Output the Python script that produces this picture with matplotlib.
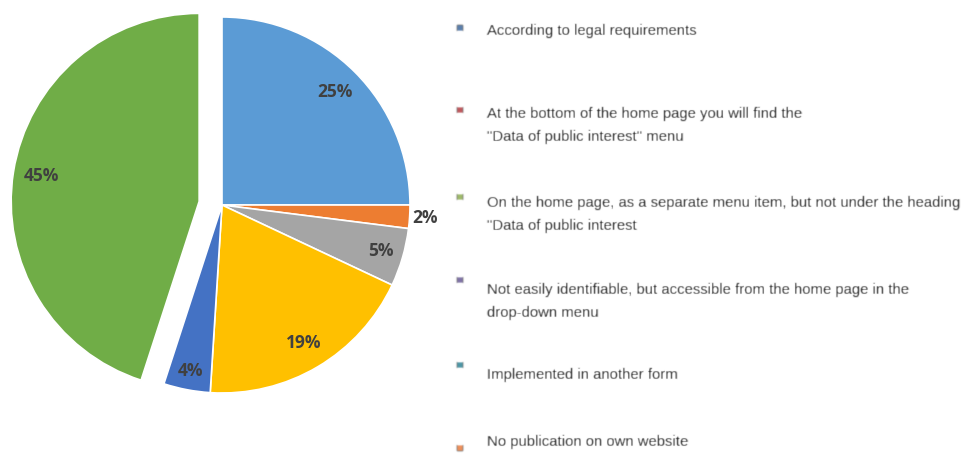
import numpy as np
import matplotlib.pyplot as plt
from matplotlib import font_manager


# Pie data
shares = [25, 2, 5, 19, 4, 45]
pie_colors = ['#5B9BD5', '#ED7D31', '#A5A5A5', '#FFC000', '#4472C4', '#70AD47']

# Key on the right side
answers = [
    'According to legal requirements',
    'At the bottom of the home page you will find the\n"Data of public interest" menu',
    'On the home page, as a separate menu item, but not under the heading\n"Data of public interest',
    'Not easily identifiable, but accessible from the home page in the\ndrop-down menu',
    'Implemented in another form',
    'No publication on own website',
]
key_colors = ['#5A7FAE', '#C0585C', '#9FBB6A', '#7F72A6', '#4C96A6', '#F0905A']


# Soft gaussian blur for the pasted key
def soften(im, dpi, sigma=0.6):
    pad = 3
    a = np.pad(im, ((pad, pad), (pad, pad), (0, 0)))
    k = np.exp(-0.5 * (np.arange(-pad, pad + 1) / sigma) ** 2)
    k /= k.sum()
    a = np.apply_along_axis(lambda m: np.convolve(m, k, mode='same'), 0, a)
    a = np.apply_along_axis(lambda m: np.convolve(m, k, mode='same'), 1, a)
    return a, -pad, -pad


# narrow face for the key if there is one
names = {f.name for f in font_manager.fontManager.ttflist}
if 'Liberation Sans Narrow' in names:
    key_font, key_size = 'Liberation Sans Narrow', 12.6
else:
    key_font, key_size = 'Liberation Sans', 10.7

W, H = 961, 461
R = 188           # pie radius in px
cx, cy = 222, 205  # pie centre in px (from top-left)

fig = plt.figure(figsize=(W / 100, H / 100), dpi=100)
ax = fig.add_axes([(cx - 1.2 * R) / W, (H - cy - 1.2 * R) / H, 2.4 * R / W, 2.4 * R / H])

explode = [0, 0, 0, 0, 0, 0.123]
wedges, texts, autotexts = ax.pie(
    shares, colors=pie_colors, startangle=90, counterclock=False,
    explode=explode, autopct=lambda p: f'{p:.0f}%', pctdistance=0.85,
    wedgeprops=dict(edgecolor='white', linewidth=1.2),
    textprops=dict(family='Open Sans', fontweight='bold', fontsize=12.5, color='#404040'))
ax.set_xlim(-1.2, 1.2)
ax.set_ylim(-1.2, 1.2)
ax.set_aspect('equal')

# move a few labels (2% sits outside the pie)
label_dist = [0.85, 1.08, 0.88, 0.855, 0.9, 0.85]
for w, t, d in zip(wedges, autotexts, label_dist):
    a = np.deg2rad((w.theta1 + w.theta2) / 2)
    x0, y0 = w.center
    t.set_position((x0 + d * np.cos(a), y0 + d * np.sin(a)))
    t.set_ha('center')
    t.set_va('center')

# Key drawn on a pixel-scaled overlay
lax = fig.add_axes([0, 0, 1, 1])
lax.set_xlim(0, W)
lax.set_ylim(H, 0)
lax.axis('off')

text_y = [31, 114, 203, 290, 375, 442]
mark_y = [28, 110, 197, 280, 365, 448]
sc = lax.scatter([460] * len(key_colors), mark_y, marker='s', s=18, c=key_colors, linewidths=0)
sc.set_agg_filter(soften)
for lab, y in zip(answers, text_y):
    for i, line in enumerate(lab.split('\n')):
        t = lax.text(487, y + 23 * i, line, fontsize=key_size, family=key_font,
                     color='#222222', va='center', ha='left')
        t.set_agg_filter(soften)

plt.savefig('out.png', dpi=100)
